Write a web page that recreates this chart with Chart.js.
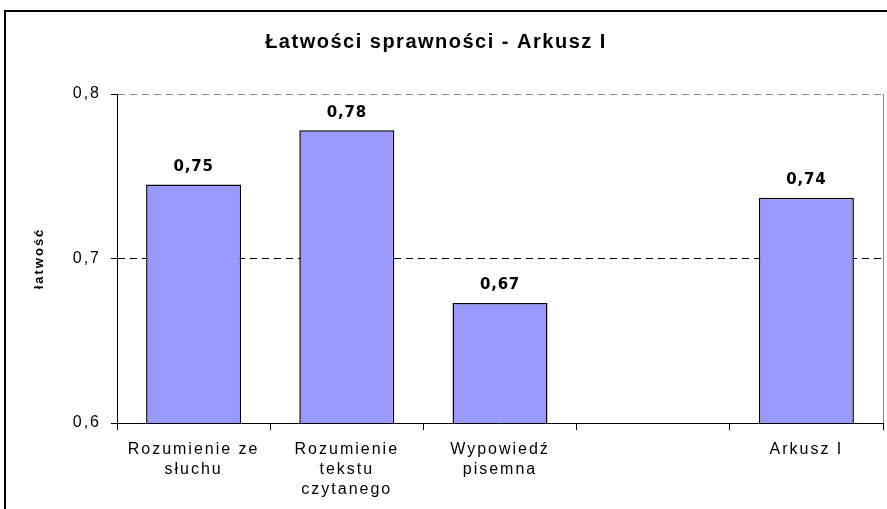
<!DOCTYPE html>
<html>
<head>
<meta charset="utf-8">
<script src="https://cdn.jsdelivr.net/npm/chart.js@4/dist/chart.umd.min.js"></script>
<style>
    html, body { margin: 0; padding: 0; background: #fff; overflow: hidden; }
    #wrap { position: relative; width: 887px; height: 509px; }
    #frame {
        position: absolute; left: 4px; top: 10px; width: 900px; height: 520px;
        border: 2px solid #000; pointer-events: none;
    }
</style>
</head>
<body>
<div id="wrap">
    <canvas id="chart" width="887" height="509"></canvas>
    <div id="frame"></div>
</div>
<script>
// Chart data
const chartTitle = 'Łatwości sprawności - Arkusz I';
const axisTitle = 'łatwość';
const categories = [
    ['Rozumienie ze', 'słuchu'],
    ['Rozumienie', 'tekstu', 'czytanego'],
    ['Wypowiedź', 'pisemna'],
    '',
    'Arkusz I'
];
const values = [0.745, 0.778, 0.673, null, 0.737];
const yMin = 0.6;
const yMax = 0.8;
const yStep = 0.1;

function formatPl(v, digits) {
    return (v + 1e-9).toFixed(digits).replace('.', ',');
}

// Title drawn by hand so it can sit off-centre like the original
const titlePlugin = {
    id: 'titleText',
    afterDraw(chart) {
        const ctx = chart.ctx;
        ctx.save();
        ctx.letterSpacing = '1.5px';
        ctx.font = 'bold 20px "Liberation Sans", Arial, sans-serif';
        ctx.fillStyle = '#000';
        ctx.textAlign = 'center';
        ctx.textBaseline = 'middle';
        ctx.fillText(chartTitle, 436, 42);
        ctx.restore();
    }
};

// Value labels above the bars
const valueLabels = {
    id: 'valueLabels',
    afterDatasetsDraw(chart) {
        const ctx = chart.ctx;
        const meta = chart.getDatasetMeta(0);
        ctx.save();
        ctx.letterSpacing = '0.8px';
        ctx.font = 'bold 15px "DejaVu Sans", Verdana, sans-serif';
        ctx.fillStyle = '#000';
        ctx.textAlign = 'center';
        ctx.textBaseline = 'bottom';
        meta.data.forEach((bar, i) => {
            const v = values[i];
            if (v === null) return;
            ctx.fillText(formatPl(v, 2), bar.x, bar.y - 10);
        });
        ctx.restore();
    }
};

// Spacing for axis text and the grey right edge of the plot area
const axisStyle = {
    id: 'axisStyle',
    beforeUpdate(chart) {
        chart.ctx.letterSpacing = '2px';
    },
    beforeDraw(chart) {
        chart.ctx.letterSpacing = '2px';
    },
    beforeDatasetsDraw(chart) {
        const a = chart.chartArea;
        const ctx = chart.ctx;
        ctx.save();
        ctx.strokeStyle = '#888';
        ctx.lineWidth = 1;
        ctx.beginPath();
        ctx.moveTo(Math.round(a.right) + 0.5, a.top);
        ctx.lineTo(Math.round(a.right) + 0.5, a.bottom);
        ctx.stroke();
        ctx.restore();
    },
    afterDraw(chart) {
        chart.ctx.letterSpacing = '0px';
    }
};

const ctx = document.getElementById('chart').getContext('2d');
new Chart(ctx, {
    type: 'bar',
    data: {
        labels: categories,
        datasets: [{
            data: values,
            backgroundColor: '#9999ff',
            borderColor: '#000',
            borderWidth: 1.5,
            categoryPercentage: 1,
            barPercentage: 0.62
        }]
    },
    options: {
        responsive: false,
        animation: false,
        layout: {
            padding: { top: 94, right: 4, left: 0, bottom: 0 }
        },
        plugins: {
            legend: { display: false },
            title: { display: false },
            tooltip: { enabled: false }
        },
        scales: {
            x: {
                grid: {
                    offset: true,
                    drawOnChartArea: false,
                    tickLength: 7,
                    tickColor: '#000'
                },
                border: { color: '#000', width: 1 },
                ticks: {
                    color: '#000',
                    font: { family: '"Liberation Sans", Arial, sans-serif', size: 16, lineHeight: 1.25 },
                    padding: 10,
                    maxRotation: 0,
                    autoSkip: false
                },
                afterFit(scale) {
                    scale.height = 86;
                }
            },
            y: {
                min: yMin,
                max: yMax,
                ticks: {
                    stepSize: yStep,
                    color: '#000',
                    font: { family: '"Liberation Sans", Arial, sans-serif', size: 16 },
                    padding: 10,
                    callback: v => formatPl(v, 1)
                },
                grid: {
                    color: c => {
                        const v = Math.round(c.tick.value * 10) / 10;
                        if (v === 0.7) return '#000';
                        if (v === 0.8) return '#888';
                        return 'rgba(0,0,0,0)';
                    },
                    tickLength: 6,
                    tickColor: '#000'
                },
                border: { color: '#000', width: 1, dash: [7, 5] },
                title: {
                    display: true,
                    text: axisTitle,
                    color: '#000',
                    font: { family: '"Liberation Sans", Arial, sans-serif', size: 13, weight: 'bold' },
                    padding: { top: 32, bottom: 0 }
                },
                afterFit(scale) {
                    scale.width = 117;
                }
            }
        }
    },
    plugins: [axisStyle, valueLabels, titlePlugin]
});
</script>
</body>
</html>
